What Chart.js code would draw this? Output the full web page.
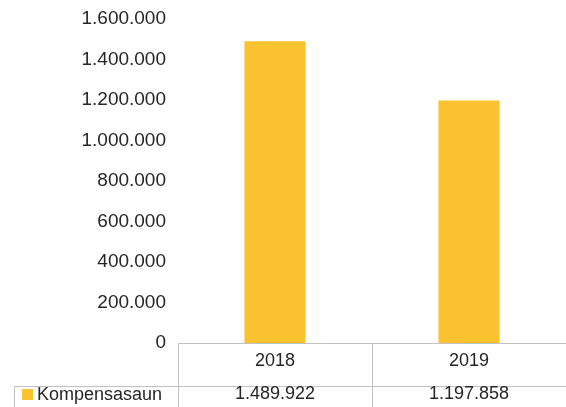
<!DOCTYPE html>
<html>
<head>
<meta charset="utf-8">
<script src="https://cdn.jsdelivr.net/npm/chart.js@4/dist/chart.umd.min.js"></script>
<style>
html,body{margin:0;padding:0;background:#fff;}
#wrap{width:566px;height:407px;position:relative;}
</style>
</head>
<body>
<div id="wrap"><canvas id="c" width="566" height="407"></canvas></div>
<script>
const categories = ['2018', '2019'];
const seriesName = 'Kompensasaun';
const seriesValues = [1489922, 1197858];
const yTicks = [0, 200000, 400000, 600000, 800000, 1000000, 1200000, 1400000, 1600000];

const BAR_COLOR = '#F9C22E';
const TEXT_COLOR = '#262626';
const LINE_COLOR = '#c2c2c2';
const FONT = '"Liberation Sans", Arial, sans-serif';

function fmt(v) {
  return String(v).replace(/\B(?=(\d{3})+(?!\d))/g, '.');
}

const tablePlugin = {
  id: 'dataTable',
  afterDraw(chart) {
    const ctx = chart.ctx;
    const ca = chart.chartArea;
    const xs = chart.scales.x;
    const H = chart.height;
    const W = chart.width;
    const rowTop = ca.bottom;
    const row2 = ca.bottom + 43;
    const legLeft = 14;
    const n = categories.length;
    const catW = (ca.right - ca.left) / n;
    ctx.save();
    ctx.strokeStyle = LINE_COLOR;
    ctx.lineWidth = 1;
    ctx.beginPath();
    ctx.moveTo(ca.left, rowTop + 0.5); ctx.lineTo(W, rowTop + 0.5);
    ctx.moveTo(legLeft, row2 + 0.5); ctx.lineTo(W, row2 + 0.5);
    ctx.moveTo(legLeft + 0.5, row2); ctx.lineTo(legLeft + 0.5, H);
    for (let i = 0; i < n; i++) {
      const xl = Math.round(xs.getPixelForValue(i) - catW / 2) + 0.5;
      ctx.moveTo(xl, rowTop); ctx.lineTo(xl, H);
    }
    ctx.stroke();

    ctx.fillStyle = TEXT_COLOR;
    ctx.font = '18px ' + FONT;
    ctx.textAlign = 'center';
    ctx.textBaseline = 'middle';
    for (let i = 0; i < n; i++) {
      const cx = xs.getPixelForValue(i);
      ctx.fillText(categories[i], cx, rowTop + 18);
      ctx.fillText(fmt(seriesValues[i]), cx, row2 + 8);
    }
    ctx.fillStyle = BAR_COLOR;
    ctx.fillRect(22, row2 + 3, 11, 11);
    ctx.fillStyle = TEXT_COLOR;
    ctx.textAlign = 'left';
    ctx.fillText(seriesName, 37, row2 + 9);
    ctx.restore();
  }
};

new Chart(document.getElementById('c'), {
  type: 'bar',
  data: {
    labels: categories,
    datasets: [{
      label: seriesName,
      data: seriesValues,
      backgroundColor: BAR_COLOR,
      borderWidth: 0,
      barPercentage: 0.63,
      categoryPercentage: 0.5
    }]
  },
  options: {
    responsive: false,
    animation: false,
    devicePixelRatio: 1,
    layout: { padding: { top: 19, bottom: 64, left: 0, right: 0 } },
    plugins: { legend: { display: false }, tooltip: { enabled: false } },
    scales: {
      x: { display: false, offset: true },
      y: {
        min: 0, max: 1600000,
        border: { display: false },
        grid: { display: false, drawTicks: false },
        afterBuildTicks(s) { s.ticks = yTicks.map(v => ({ value: v })); },
        afterFit(s) { s.width = 178; s.paddingTop = 0; s.paddingBottom = 0; },
        ticks: {
          padding: 12,
          color: TEXT_COLOR,
          font: { family: FONT, size: 19 },
          callback: v => fmt(v)
        }
      }
    }
  },
  plugins: [tablePlugin]
});
</script>
</body>
</html>
